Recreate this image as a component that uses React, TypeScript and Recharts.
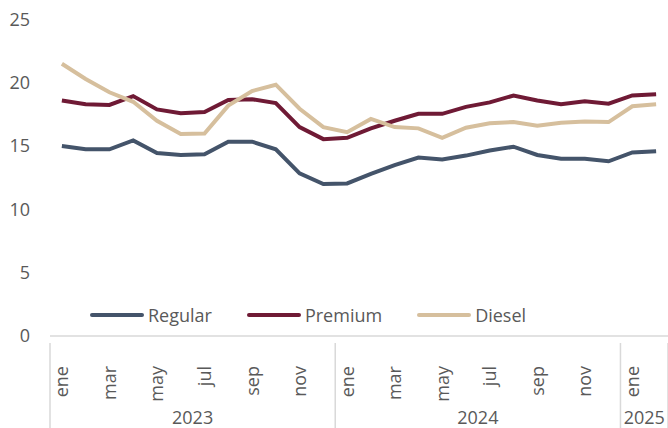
import { LineChart, Line, XAxis, YAxis } from 'recharts';

const MONTHS = ['ene', 'feb', 'mar', 'abr', 'may', 'jun', 'jul', 'ago', 'sep', 'oct', 'nov', 'dic', 'ene', 'feb', 'mar', 'abr', 'may', 'jun', 'jul', 'ago', 'sep', 'oct', 'nov', 'dic', 'ene', 'feb'];
const YEARS = ['2023', '2024', '2025'];
const YEAR_SPANS = [12, 12, 2];

const REGULAR = [15.0, 14.75, 14.75, 15.45, 14.45, 14.3, 14.35, 15.35, 15.35, 14.75, 12.85, 12.0, 12.05, 12.8, 13.5, 14.1, 13.95, 14.25, 14.65, 14.95, 14.3, 14.0, 14.0, 13.8, 14.5, 14.6];
const PREMIUM = [18.6, 18.3, 18.25, 18.95, 17.9, 17.6, 17.7, 18.65, 18.7, 18.4, 16.5, 15.55, 15.65, 16.4, 17.0, 17.55, 17.55, 18.1, 18.45, 19.0, 18.6, 18.3, 18.55, 18.35, 19.0, 19.1];
const DIESEL = [21.5, 20.3, 19.25, 18.5, 17.0, 15.95, 16.0, 18.2, 19.35, 19.85, 17.95, 16.5, 16.1, 17.15, 16.5, 16.4, 15.65, 16.45, 16.8, 16.9, 16.6, 16.85, 16.95, 16.9, 18.15, 18.3];

const Y_TICKS = [0, 5, 10, 15, 20, 25];

const COLORS = {
  regular: '#44546a',
  premium: '#6f1a35',
  diesel: '#d6bf9d',
};

const TEXT = '#595959';
const FONT = '"Open Sans", "Noto Sans", sans-serif';

const data = MONTHS.map((m, i) => ({
  idx: i,
  month: m,
  regular: REGULAR[i],
  premium: PREMIUM[i],
  diesel: DIESEL[i],
}));

// group boundaries and centers, in index units
const boundaries: number[] = [-0.5];
const yearCenters: number[] = [];
let start = -0.5;
YEAR_SPANS.forEach((n) => {
  yearCenters.push(start + n / 2);
  start += n;
  boundaries.push(start);
});

const monthTicks = data.filter((d) => d.idx % 2 === 0).map((d) => d.idx);
const allTicks = [...monthTicks, ...boundaries, ...yearCenters];

function XTick(props: any) {
  const { x, y, payload } = props;
  const v = payload.value;
  const bi = boundaries.indexOf(v);
  if (bi >= 0) {
    return <line x1={x} y1={y - 1} x2={x} y2={y + 100} stroke="#d9d9d9" strokeWidth={1.5} />;
  }
  const yi = yearCenters.indexOf(v);
  if (yi >= 0) {
    return (
      <text x={x} y={y + 80} textAnchor="middle" fill={TEXT} fontSize={18} fontFamily={FONT}>
        {YEARS[yi]}
      </text>
    );
  }
  return (
    <text
      x={x}
      y={y + 22}
      dy="0.36em"
      transform={`rotate(-90, ${x}, ${y + 22})`}
      textAnchor="end"
      fill={TEXT}
      fontSize={18}
      fontFamily={FONT}
    >
      {MONTHS[v]}
    </text>
  );
}

const legendItems = [
  { name: 'Regular', color: COLORS.regular },
  { name: 'Premium', color: COLORS.premium },
  { name: 'Diesel', color: COLORS.diesel },
];

export default function App() {
  return (
    <div style={{ position: 'absolute', left: 0, top: 0, width: 668, height: 428, background: '#fff' }}>
      <LineChart width={668} height={428} data={data} margin={{ top: 19.5, right: 0, left: 0, bottom: 0 }}>
        <XAxis
          dataKey="idx"
          type="number"
          domain={[-0.5, 25.5]}
          ticks={allTicks}
          interval={0}
          height={92}
          axisLine={{ stroke: '#d9d9d9', strokeWidth: 1.5 }}
          tickLine={false}
          tick={<XTick />}
          allowDataOverflow
        />
        <YAxis
          width={50}
          domain={[0, 25]}
          ticks={Y_TICKS}
          axisLine={false}
          tickLine={false}
          tickSize={0}
          tickMargin={20}
          tick={{ fill: TEXT, fontSize: 18, fontFamily: FONT }}
        />
        <Line type="linear" dataKey="regular" name="Regular" stroke={COLORS.regular} strokeWidth={4} dot={false} isAnimationActive={false} />
        <Line type="linear" dataKey="premium" name="Premium" stroke={COLORS.premium} strokeWidth={4} dot={false} isAnimationActive={false} />
        <Line type="linear" dataKey="diesel" name="Diesel" stroke={COLORS.diesel} strokeWidth={4} dot={false} isAnimationActive={false} />
      </LineChart>
      {/* legend sits inside the plot area, over the lower part */}
      <div
        style={{
          position: 'absolute',
          left: 90,
          top: 305,
          display: 'flex',
          alignItems: 'center',
          gap: 35,
          fontFamily: FONT,
          fontSize: 18,
          color: TEXT,
        }}
      >
        {legendItems.map((it) => (
          <div key={it.name} style={{ display: 'flex', alignItems: 'center' }}>
            <svg width={54} height={10}>
              <line x1={2} y1={5} x2={52} y2={5} stroke={it.color} strokeWidth={4} strokeLinecap="round" />
            </svg>
            <span style={{ marginLeft: 4, lineHeight: '20px' }}>{it.name}</span>
          </div>
        ))}
      </div>
    </div>
  );
}
